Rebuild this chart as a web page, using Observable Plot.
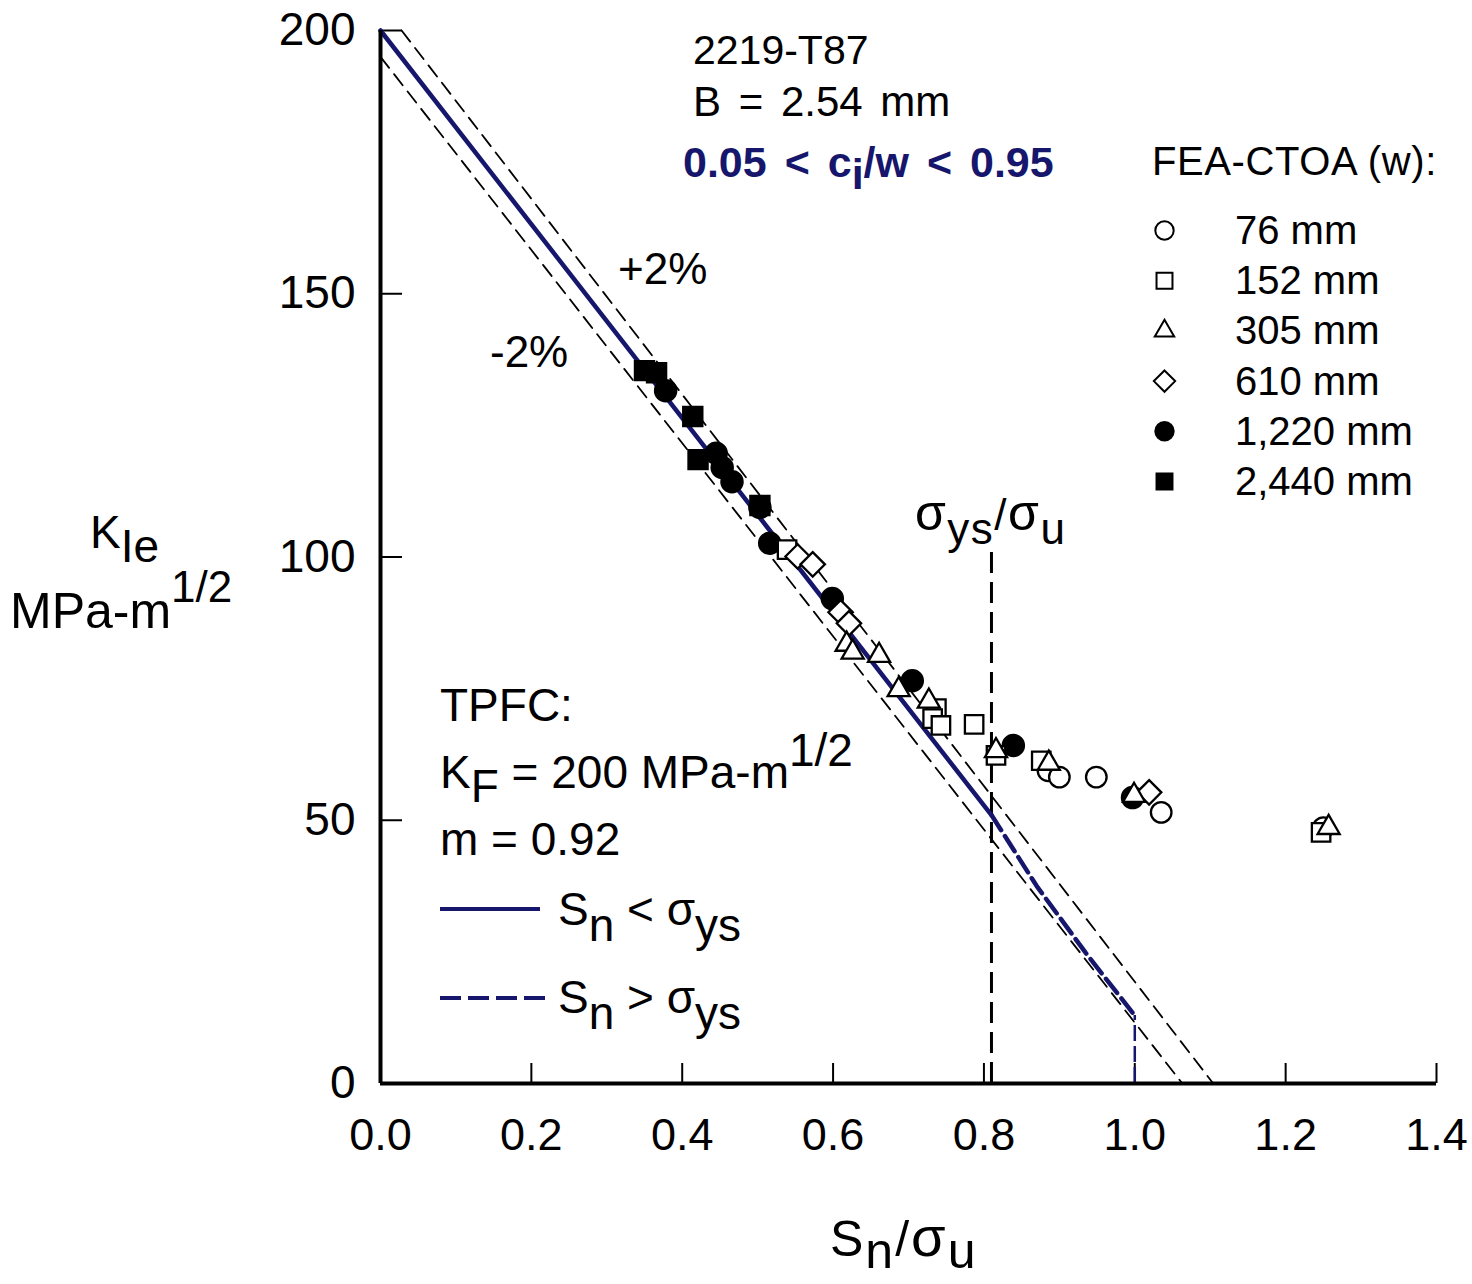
<!DOCTYPE html>
<html>
<head>
<meta charset="utf-8">
<script src="https://cdn.jsdelivr.net/npm/d3@7"></script>
<script src="https://cdn.jsdelivr.net/npm/@observablehq/plot@0.6"></script>
<style>
  html, body { margin: 0; padding: 0; background: #fff; }
  svg text { white-space: pre; }
</style>
</head>
<body>
<script>
// 2219-T87, B = 2.54 mm: K_Ie against Sn/σu from FEA-CTOA analyses, by panel width w
const widthLabels = ["76 mm", "152 mm", "305 mm", "610 mm", "1,220 mm", "2,440 mm"];

const w76Sn   = [0.885, 0.900, 0.949, 1.035, 1.250];
const w76K    = [59.4, 58.2, 58.2, 51.5, 48.6];
const w152Sn  = [0.539, 0.737, 0.732, 0.743, 0.787, 0.816, 0.876, 1.247];
const w152K   = [101.4, 71.2, 69.3, 68.0, 68.2, 62.3, 61.3, 47.7];
const w305Sn  = [0.618, 0.626, 0.661, 0.687, 0.727, 0.816, 0.886, 0.999, 1.257];
const w305K   = [83.4, 81.9, 81.3, 74.8, 72.6, 63.2, 60.8, 54.7, 48.6];
const w610Sn  = [0.553, 0.573, 0.610, 0.621, 1.019];
const w610K   = [100.1, 98.6, 89.5, 87.4, 55.3];
const w1220Sn = [0.378, 0.445, 0.453, 0.466, 0.503, 0.516, 0.599, 0.705, 0.839, 0.997];
const w1220K  = [131.6, 119.7, 117.0, 114.3, 109.4, 102.6, 92.1, 76.5, 64.2, 54.3];
const w2440Sn = [0.350, 0.366, 0.414, 0.421, 0.503];
const w2440K  = [135.4, 135.0, 126.7, 118.5, 109.8];

// TPFC parameters and yield-to-ultimate ratio
const KF = 200;
const mTPFC = 0.92;
const ysRatio = 0.81;
const ysLineTop = 101;

// TPFC beyond yield (Sn > σys), then the cut-off at Sn = σu
const plasticSn = [0.81, 0.87, 0.935, 1.0];
const plasticK  = [51.0, 37.5, 24.8, 12.9];

// ±2% bounds around the TPFC line
const plus2Sn  = [0.028, 1.104];
const plus2K   = [200, 0];
const minus2Sn = [0.0, 1.063];
const minus2K  = [195, 0];

// axis ticks
const xTicks = [0, 0.2, 0.4, 0.6, 0.8, 1.0, 1.2, 1.4];
const yTicks = [0, 50, 100, 150, 200];

const navy = "#16176c";
const pts = (xs, ks) => xs.map((x, i) => ({x, k: ks[i]}));

const solid = [0, ysRatio].map(x => ({x, k: KF * (1 - mTPFC * x)}));
const plastic = pts(plasticSn, plasticK);

// marker styles for each width (drawn in this order)
const seriesDefs = [
  {data: pts(w2440Sn, w2440K), symbol: d3.symbolSquare,   r: 10.8, fill: "#000"},
  {data: pts(w1220Sn, w1220K), symbol: d3.symbolCircle,   r: 10.6, fill: "#000"},
  {data: pts(w76Sn, w76K),     symbol: d3.symbolCircle,   r: 10.3, fill: "#fff"},
  {data: pts(w152Sn, w152K),   symbol: d3.symbolSquare,   r: 10.4, fill: "#fff"},
  {data: pts(w610Sn, w610K),   symbol: d3.symbolDiamond2, r: 11.0, fill: "#fff"},
  {data: pts(w305Sn, w305K),   symbol: d3.symbolTriangle, r: 8.2,  fill: "#fff"}
];
// legend symbols, in the order of widthLabels
const legendDefs = [
  {symbol: d3.symbolCircle,   r: 9.2, fill: "#fff"},
  {symbol: d3.symbolSquare,   r: 9.0, fill: "#fff"},
  {symbol: d3.symbolTriangle, r: 7.2, fill: "#fff"},
  {symbol: d3.symbolDiamond2, r: 9.6, fill: "#fff"},
  {symbol: d3.symbolCircle,   r: 9.2, fill: "#000"},
  {symbol: d3.symbolSquare,   r: 9.0, fill: "#000"}
];

const plot = Plot.plot({
  width: 1472,
  height: 1284,
  marginTop: 30,
  marginLeft: 380,
  marginRight: 36,
  marginBottom: 201,
  x: {domain: [0, 1.4]},
  y: {domain: [0, 200]},
  style: {fontFamily: "'Liberation Sans', Arial, sans-serif", background: "#fff", color: "#000"},
  marks: [
    Plot.axisX(xTicks, {tickSize: -20, tickPadding: 55, tickFormat: d => d.toFixed(1), fontSize: 45, strokeWidth: 2, label: null}),
    Plot.axisY(yTicks, {tickSize: -22, tickPadding: 47, fontSize: 46, strokeWidth: 2, label: null}),
    Plot.line(pts(plus2Sn, plus2K), {x: "x", y: "k", stroke: "#000", strokeWidth: 1.8, strokeDasharray: "14,8"}),
    Plot.line(pts(minus2Sn, minus2K), {x: "x", y: "k", stroke: "#000", strokeWidth: 1.8, strokeDasharray: "14,8"}),
    Plot.ruleX([ysRatio], {y1: 0, y2: ysLineTop, stroke: "#000", strokeWidth: 3, strokeDasharray: "21,9"}),
    Plot.line(solid, {x: "x", y: "k", stroke: navy, strokeWidth: 4.5}),
    Plot.line(plastic, {x: "x", y: "k", stroke: navy, strokeWidth: 4.5, strokeDasharray: "18,7"}),
    Plot.ruleX([plasticSn[plasticSn.length - 1]], {y1: 0, y2: plasticK[plasticK.length - 1], stroke: navy, strokeWidth: 2.5, strokeDasharray: "16,5"}),
    Plot.ruleY([0], {stroke: "#000", strokeWidth: 4}),
    Plot.ruleX([0], {stroke: "#000", strokeWidth: 4}),
    ...seriesDefs.map(s => Plot.dot(s.data, {x: "x", y: "k", symbol: s.symbol, r: s.r, fill: s.fill, stroke: "#000", strokeWidth: 2.3})),
    // legend markers, stacked down the right side of the frame
    ...legendDefs.map((s, i) => Plot.dot([widthLabels[i]], {frameAnchor: "top-left", dx: 784, dy: 200 + 50.2 * i, symbol: s.symbol, r: s.r, fill: s.fill, stroke: "#000", strokeWidth: 2}))
  ]
});
document.body.appendChild(plot);

const svg = d3.select(plot);

// text with sub/superscripts: parts are [string, baseline offset, optional size]
function rich(x, y, parts, {size = 40, weight = "normal", fill = "#000", wordSpacing = 0, letterSpacing = 0} = {}) {
  const t = svg.append("text")
    .attr("x", x).attr("y", y)
    .attr("text-anchor", "start")
    .attr("font-size", size).attr("font-weight", weight)
    .attr("fill", fill)
    .style("font-family", "'Liberation Sans', Arial, sans-serif")
    .style("word-spacing", wordSpacing + "px")
    .style("letter-spacing", letterSpacing + "px");
  let prev = 0;
  for (const [str, off = 0, fs] of parts) {
    const span = t.append("tspan").attr("dy", off - prev).text(str);
    if (fs) span.attr("font-size", fs);
    prev = off;
  }
  return t;
}

rich(693, 64, [["2219-T87"]], {size: 41});
rich(693, 116, [["B = 2.54 mm"]], {size: 42, wordSpacing: 6});
rich(683, 177, [["0.05 < c"], ["i", 12], ["/w < 0.95"]], {size: 43, weight: "bold", fill: navy, wordSpacing: 6});
rich(1152, 175, [["FEA-CTOA (w):"]], {letterSpacing: 0.6});
widthLabels.forEach((lab, i) => rich(1235, 244 + 50.2 * i, [[lab]]));

rich(618, 284, [["+2%"]], {size: 44});
rich(490, 367, [["-2%"]], {size: 44});
rich(915, 530, [["σ", 0, 50], ["ys", 14], ["/", 0], ["σ", 0, 50], ["u", 14]], {size: 44, letterSpacing: 1.5});

rich(90, 548, [["K"], ["Ie", 14]], {size: 46});
rich(10, 628, [["MPa-m"], ["1/2", -26, 44]], {size: 50});

rich(440, 721, [["TPFC:"]], {size: 46});
rich(440, 788, [["K"], ["F", 14], [" = 200 MPa-m", 0], ["1/2", -22]], {size: 46});
rich(440, 855, [["m = 0.92"]], {size: 46});

svg.append("line").attr("x1", 440).attr("x2", 540).attr("y1", 909).attr("y2", 909)
  .attr("stroke", navy).attr("stroke-width", 4);
rich(558, 925, [["S"], ["n", 16], [" < σ", 0], ["ys", 16]], {size: 46});
svg.append("line").attr("x1", 440).attr("x2", 545).attr("y1", 998).attr("y2", 998)
  .attr("stroke", navy).attr("stroke-width", 4).attr("stroke-dasharray", "21,7");
rich(558, 1013, [["S"], ["n", 16], [" > σ", 0], ["ys", 16]], {size: 46});

rich(830, 1256, [["S"], ["n", 12], ["/", 0], ["σ", 0, 56], ["u", 12]], {size: 50, letterSpacing: 2});
</script>
</body>
</html>
